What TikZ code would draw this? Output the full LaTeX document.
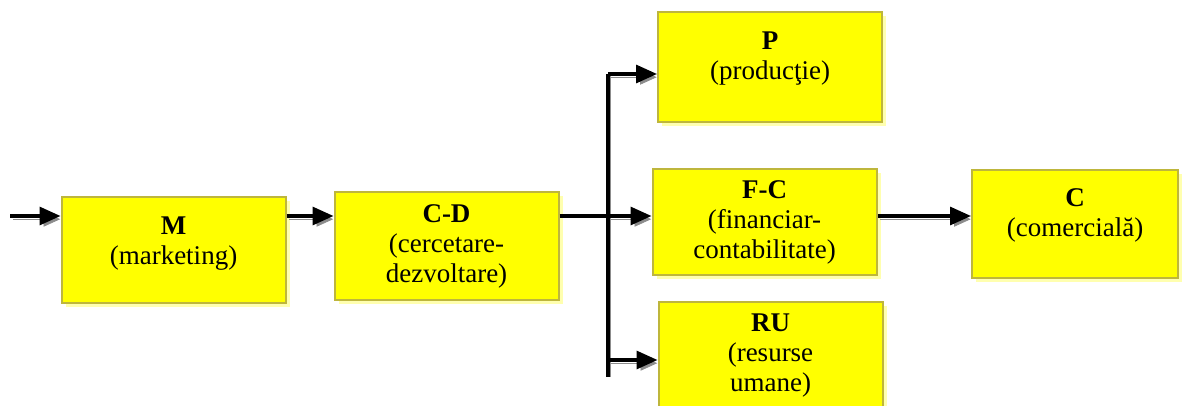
\documentclass[tikz,border=0pt]{standalone}
\usepackage{fontspec}
\setmainfont{Liberation Serif}
\usetikzlibrary{positioning,arrows.meta,shadows}
\definecolor{boxyellow}{RGB}{255, 255, 0}
\definecolor{boxborder}{RGB}{190, 182, 60}
\definecolor{boxshadow}{RGB}{255, 255, 175}
\definecolor{arrowshadow}{RGB}{140, 140, 140}

\begin{document}
\begin{tikzpicture}[
        x=0.5pt, y=-0.5pt,
        % Node styles
        dept/.style={draw=boxborder, fill=boxyellow, line width=1pt, minimum width=112pt, minimum height=53pt, align=center, font=\fontsize{13.5}{15}\selectfont, inner sep=0pt, drop shadow={fill=boxshadow, opacity=1, shadow xshift=2pt, shadow yshift=-2pt}},
        conn/.style={line width=1.6pt, -{Triangle[length=10.5pt, width=9pt]}, preaction={draw=arrowshadow, transform canvas={shift={(1.4pt,-1.6pt)}}}},
        bus/.style={line width=1.6pt, preaction={draw=arrowshadow, transform canvas={shift={(1.4pt,0pt)}}}}
    ]
    \useasboundingbox (0,0) rectangle (1184,406);

    % Departments
    \node[dept] (m) at (173.5, 250) {\textbf{M}\\(marketing)\\[-6pt]\mbox{}};
    \node[dept, minimum height=54pt] (cd) at (446.5, 246.5) {\textbf{C-D}\\(cercetare-\\dezvoltare)};
    \node[dept, minimum height=55pt] (p) at (770, 67.5) {\textbf{P}\\(producţie)\\[-3pt]\mbox{}};
    \node[dept] (fc) at (764.5, 222.5) {\textbf{F-C}\\(financiar-\\contabilitate)};
    \node[dept, minimum height=54pt] (ru) at (770.5, 356) {\textbf{RU}\\(resurse\\umane)};
    \node[dept, minimum width=103pt, minimum height=54pt] (c) at (1075, 224) {\textbf{C}\\(comercială)\\[-4pt]\mbox{}};

    % Branch points
    \coordinate (in) at (10, 216);
    \coordinate (bus) at (608, 216);
    \coordinate (bustop) at (608, 74);
    \coordinate (busru) at (608, 360);
    \coordinate (busend) at (608, 377);

    % Connectors
    \draw[conn] (in) -- (in -| m.west);
    \draw[conn] (m.east |- in) -- (cd.west |- in);
    \draw[bus] (busend) -- (bustop);
    \draw[conn] (bustop) -- (p.west |- bustop);
    \draw[line width=1.6pt] (cd.east |- in) -- (bus);
    \draw[conn] (bus) -- (fc.west |- bus);
    \draw[conn] (busru) -- (ru.west |- busru);
    \draw[conn] (fc.east |- in) -- (c.west |- in);

\end{tikzpicture}
\end{document}
